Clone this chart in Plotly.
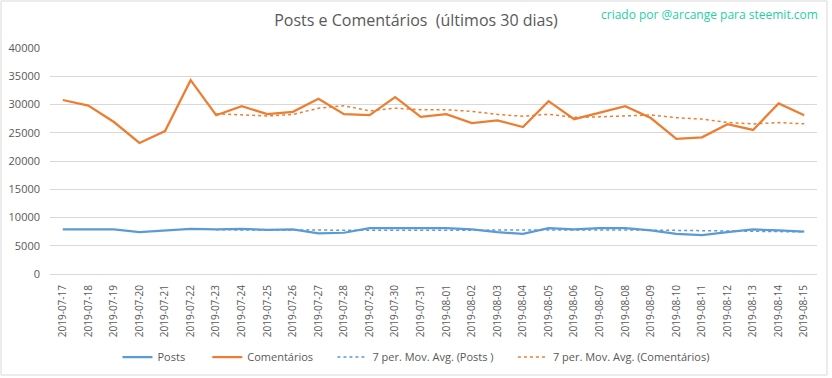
import plotly.graph_objects as go
import pandas as pd

dates = ["2019-07-17","2019-07-18","2019-07-19","2019-07-20","2019-07-21","2019-07-22","2019-07-23",
         "2019-07-24","2019-07-25","2019-07-26","2019-07-27","2019-07-28","2019-07-29","2019-07-30",
         "2019-07-31","2019-08-01","2019-08-02","2019-08-03","2019-08-04","2019-08-05","2019-08-06",
         "2019-08-07","2019-08-08","2019-08-09","2019-08-10","2019-08-11","2019-08-12","2019-08-13",
         "2019-08-14","2019-08-15"]

posts = [7900, 7900, 7900, 7400, 7700, 8000, 7900, 8000, 7800, 7900, 7200, 7300, 8100, 8100,
         8100, 8100, 7900, 7400, 7100, 8100, 7900, 8100, 8100, 7700, 7100, 6900, 7400, 7900,
         7700, 7500]

comentarios = [30800, 29800, 26900, 23200, 25300, 34300, 28100, 29700, 28300, 28700, 31000, 28300,
               28100, 31300, 27800, 28300, 26700, 27200, 26000, 30600, 27400, 28500, 29700, 27600,
               23900, 24200, 26500, 25500, 30200, 28100]

y_ticks = [0, 5000, 10000, 15000, 20000, 25000, 30000, 35000, 40000]
y_tick_labels = ["0", "5000", "10000", "15000", "20000", "25000", "30000", "35000", "40000"]

ma_posts = pd.Series(posts).rolling(7).mean().tolist()
ma_com = pd.Series(comentarios).rolling(7).mean().tolist()

BLUE = "#5b9bd5"
ORANGE = "#ed7d31"
GRAY = "#595959"

fig = go.Figure()
fig.add_trace(go.Scatter(x=dates, y=posts, mode="lines", name="Posts      ",
                         line=dict(color=BLUE, width=2.25)))
fig.add_trace(go.Scatter(x=dates, y=comentarios, mode="lines", name="Comentários     ",
                         line=dict(color=ORANGE, width=2.25)))
fig.add_trace(go.Scatter(x=dates, y=ma_posts, mode="lines", name="7 per. Mov. Avg. (Posts )     ",
                         line=dict(color=BLUE, width=1.5, dash="dot")))
fig.add_trace(go.Scatter(x=dates, y=ma_com, mode="lines", name="7 per. Mov. Avg. (Comentários)",
                         line=dict(color=ORANGE, width=1.5, dash="dot")))

L, R, T, B = 50, 15, 48, 104
W, H = 832, 378
pw, ph = W - L - R, H - T - B

def px(x):
    return (x - L) / pw

def py(y):
    return (H - B - y) / ph

fig.update_layout(
    width=W, height=H,
    margin=dict(l=L, r=R, t=T, b=B),
    paper_bgcolor="white", plot_bgcolor="white",
    font=dict(family="Open Sans, sans-serif", color=GRAY),
    title=dict(text="Posts e Comentários  (últimos 30 dias)", x=0.5, xanchor="center",
               y=1 - 20 / H, yanchor="middle",
               font=dict(size=16, color=GRAY, family="Open Sans, sans-serif")),
    showlegend=True,
    legend=dict(orientation="h", x=0.5, xanchor="center", xref="container",
                y=1 - 357 / H, yanchor="middle", yref="container",
                font=dict(size=11, color=GRAY), itemwidth=30, tracegroupgap=0),
    xaxis=dict(type="category", range=[-0.5, len(dates) - 0.5], tickangle=-90,
               tickfont=dict(size=10, color=GRAY), ticklabelstandoff=6, automargin=False,
               showgrid=False, showline=True, linecolor="#d9d9d9", ticks="", zeroline=False),
    yaxis=dict(range=[0, 40000], tickvals=y_ticks, ticktext=y_tick_labels, automargin=False,
               tickfont=dict(size=11, color=GRAY), ticklabelstandoff=9,
               gridcolor="#d9d9d9", gridwidth=1, showline=False, zeroline=False, ticks=""),
    annotations=[dict(text="criado por @arcange para steemit.com", xref="paper", yref="paper",
                      x=px(820), y=py(14), xanchor="right", yanchor="middle", showarrow=False,
                      font=dict(size=12, color="#1fcfa5", family="Open Sans, sans-serif"))],
    shapes=[dict(type="rect", xref="paper", yref="paper", x0=px(1), x1=px(827),
                 y0=py(375), y1=py(1), line=dict(color="#d9d9d9", width=1), layer="below")],
)

fig.write_html("out.html", config={"displayModeBar": False},
               post_script="document.body.style.margin='0';")
